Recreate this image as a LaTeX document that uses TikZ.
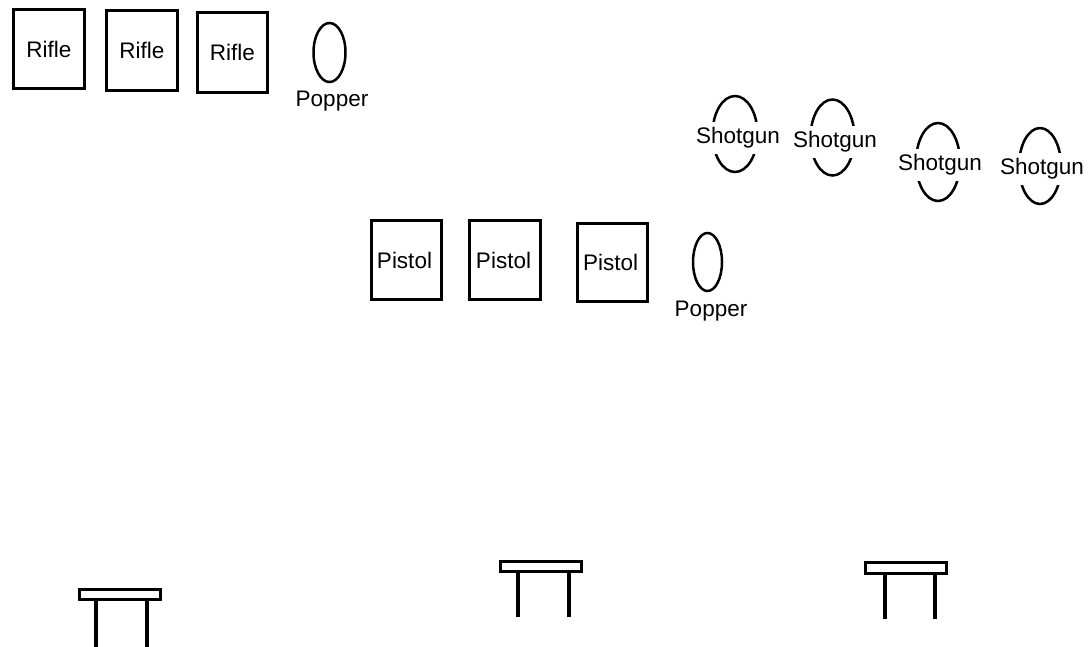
\documentclass[tikz,border=0pt]{standalone}
\usepackage{fontspec}
\setmainfont{Liberation Sans}
\begin{document}
\begin{tikzpicture}[x=1pt,y=-1pt,
  lbl/.style={font=\fontsize{22.5}{25}\selectfont, inner sep=0pt},
  target/.style={draw, line width=3pt, inner sep=0pt, font=\fontsize{22.5}{25}\selectfont},
  popper/.style={draw, line width=2.5pt, ellipse},
  shot/.style={line width=2.5pt},
  covered/.style={fill=white, inner xsep=1pt, inner ysep=6pt, font=\fontsize{22.5}{25}\selectfont},
  tabletop/.style={draw, line width=3pt, inner sep=0pt, minimum width=81pt, minimum height=10pt},
  leg/.style={line width=4pt}]
\useasboundingbox (0,0) rectangle (1091,646);
% Rifle targets
\node[target, minimum width=71pt, minimum height=79pt] (r1) at (49,49) {\raisebox{-3pt}{Rifle}};
\node[target, minimum width=71pt, minimum height=80pt] (r2) at (142,50.5) {\raisebox{-3pt}{Rifle}};
\node[target, minimum width=70pt, minimum height=80pt] (r3) at (232.5,52.5) {\raisebox{-3pt}{Rifle}};
% Popper 1
\draw[shot] (329.5,52.5) ellipse [x radius=16, y radius=29.5];
\node[lbl] (p1) at (332,101) {Popper};
% Shotguns
\draw[shot] (735,134) ellipse [x radius=22.5, y radius=38];
\node[covered] (s1) at (738,138) {Shotgun};
\draw[shot] (832.5,137.5) ellipse [x radius=22, y radius=38];
\node[covered] (s2) at (835,142) {Shotgun};
\draw[shot] (938,162) ellipse [x radius=22, y radius=39];
\node[covered] (s3) at (940,165) {Shotgun};
\draw[shot] (1040,166) ellipse [x radius=21, y radius=38];
\node[covered] (s4) at (1042,169) {Shotgun};
% Pistol targets
\node[target, minimum width=70pt, minimum height=79pt] (q1) at (406.5,260) {\hspace*{-4pt}Pistol};
\node[target, minimum width=71pt, minimum height=79pt] (q2) at (505,260) {\hspace*{-3pt}Pistol};
\node[target, minimum width=70pt, minimum height=78pt] (q3) at (612.5,262.5) {\hspace*{-4pt}Pistol};
% Popper 2
\draw[shot] (707.5,262) ellipse [x radius=14.5, y radius=29];
\node[lbl] (p2) at (711,311) {Popper};
% Tables
\node[tabletop] (t1) at (120,594.5) {};
\draw[leg] ([xshift=-24pt]t1.south) -- ++(0,47);
\draw[leg] ([xshift=27pt]t1.south) -- ++(0,47);
\node[tabletop] (t2) at (541,566.5) {};
\draw[leg] ([xshift=-23pt]t2.south) -- ([xshift=-23pt]t2.south |- 0,617);
\draw[leg] ([xshift=28pt]t2.south) -- ([xshift=28pt]t2.south |- 0,617);
\node[tabletop, minimum height=11pt] (t3) at (906,568) {};
\draw[leg] ([xshift=-21.5pt]t3.south) -- ([xshift=-21.5pt]t3.south |- 0,619);
\draw[leg] ([xshift=28.5pt]t3.south) -- ([xshift=28.5pt]t3.south |- 0,619);
\end{tikzpicture}
\end{document}
